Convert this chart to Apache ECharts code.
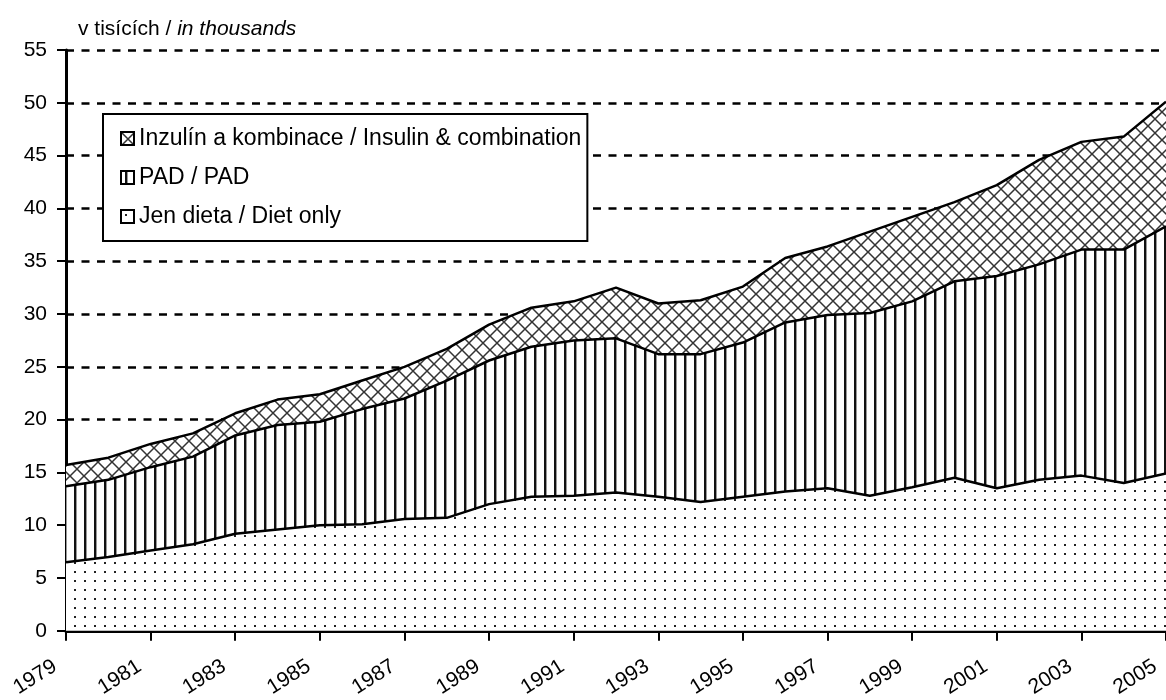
<!DOCTYPE html>
<html>
<head>
<meta charset="utf-8">
<script src="https://cdn.jsdelivr.net/npm/echarts@6/dist/echarts.min.js"></script>
<style>
  html, body { margin: 0; padding: 0; background: #fff; }
  #chart { width: 1166px; height: 700px; }
</style>
</head>
<body>
<div id="chart"></div>
<script>
const years = ['1979', '1980', '1981', '1982', '1983', '1984', '1985', '1986', '1987', '1988',
  '1989', '1990', '1991', '1992', '1993', '1994', '1995', '1996', '1997', '1998',
  '1999', '2000', '2001', '2002', '2003', '2004', '2005'];
// values in thousands, stacked bottom -> top
const dietOnly = [6.5, 7.0, 7.6, 8.2, 9.2, 9.6, 10.0, 10.1, 10.6, 10.7,
  12.0, 12.7, 12.8, 13.1, 12.7, 12.2, 12.7, 13.2, 13.5, 12.8,
  13.6, 14.5, 13.5, 14.3, 14.7, 14.0, 14.9];
const pad = [7.2, 7.3, 7.9, 8.3, 9.3, 9.9, 9.8, 10.9, 11.4, 13.0,
  13.6, 14.2, 14.7, 14.6, 13.5, 14.0, 14.6, 16.0, 16.4, 17.3,
  17.6, 18.6, 20.1, 20.4, 21.4, 22.1, 23.4];
const insulin = [2.0, 2.1, 2.2, 2.2, 2.1, 2.4, 2.6, 2.7, 3.0, 3.0,
  3.4, 3.7, 3.7, 4.8, 4.8, 5.1, 5.3, 6.1, 6.5, 7.7,
  8.0, 7.5, 8.6, 9.9, 10.2, 10.7, 11.8];

const names = {
  insulin: 'Inzulín a kombinace / Insulin & combination',
  pad: 'PAD / PAD',
  diet: 'Jen dieta / Diet only'
};

const font = 'Liberation Sans, Arial, sans-serif';

function tile(w, h, draw) {
  const c = document.createElement('canvas');
  c.width = w;
  c.height = h;
  const ctx = c.getContext('2d');
  ctx.fillStyle = '#fff';
  ctx.fillRect(0, 0, w, h);
  draw(ctx);
  return { image: c, repeat: 'repeat' };
}

const dots = tile(10, 9, ctx => {
  ctx.fillStyle = '#222';
  ctx.fillRect(4, 4, 2, 2);
});
const stripes = tile(10, 10, ctx => {
  ctx.fillStyle = '#111';
  ctx.fillRect(4, 0, 2, 10);
  ctx.fillStyle = '#999';
  ctx.fillRect(6, 0, 1, 10);
});
const hatch = tile(14, 14, ctx => {
  ctx.strokeStyle = '#333';
  ctx.lineWidth = 1.5;
  ctx.beginPath();
  ctx.moveTo(-1, -1); ctx.lineTo(15, 15);
  ctx.moveTo(15, -1); ctx.lineTo(-1, 15);
  ctx.stroke();
});

function layer(name, data, pattern) {
  return {
    name: name,
    type: 'line',
    stack: 'total',
    data: data,
    symbol: 'none',
    silent: true,
    lineStyle: { color: '#000', width: 2.5 },
    itemStyle: { color: '#000' },
    areaStyle: { color: pattern, opacity: 1 }
  };
}

const chart = echarts.init(document.getElementById('chart'));
chart.setOption({
  animation: false,
  title: {
    text: '{a|v tisících / }{b|in thousands}',
    left: 73,
    top: 14,
    textStyle: {
      rich: {
        a: { fontSize: 21, fontFamily: font, color: '#000', fontWeight: 'normal' },
        b: { fontSize: 21, fontFamily: font, color: '#000', fontWeight: 'normal', fontStyle: 'italic' }
      }
    }
  },
  legend: {
    orient: 'vertical',
    left: 103,
    top: 114,
    icon: 'rect',
    itemWidth: 13,
    itemHeight: 13,
    itemGap: 16,
    padding: [13, 6, 13, 17],
    backgroundColor: '#fff',
    borderColor: '#000',
    borderWidth: 2,
    borderRadius: 0,
    z: 10,
    selectedMode: false,
    textStyle: { fontSize: 23, fontFamily: font, color: '#000' },
    data: [
      { name: names.insulin, itemStyle: { color: hatch, borderColor: '#000', borderWidth: 2 } },
      { name: names.pad, itemStyle: { color: stripes, borderColor: '#000', borderWidth: 2 } },
      { name: names.diet, itemStyle: { color: dots, borderColor: '#000', borderWidth: 2 } }
    ]
  },
  grid: { left: 66, right: 0, top: 50, bottom: 68, containLabel: false },
  xAxis: {
    type: 'category',
    data: years,
    boundaryGap: false,
    axisLine: { lineStyle: { color: '#000', width: 3 } },
    axisTick: { interval: 1, length: 10, lineStyle: { color: '#000', width: 2 } },
    axisLabel: {
      interval: 1,
      rotate: 32,
      margin: 27,
      padding: [0, 13, 0, 0],
      fontSize: 21,
      fontFamily: font,
      color: '#000'
    },
    splitLine: { show: false }
  },
  yAxis: {
    type: 'value',
    min: 0,
    max: 55,
    interval: 5,
    axisLine: { show: true, lineStyle: { color: '#000', width: 3 } },
    axisTick: { show: true, length: 9, lineStyle: { color: '#000', width: 2 } },
    axisLabel: { margin: 19, fontSize: 21, fontFamily: font, color: '#000' },
    splitLine: { lineStyle: { color: '#000', width: 2.5, type: [8, 7.5] } }
  },
  series: [
    layer(names.diet, dietOnly, dots),
    layer(names.pad, pad, stripes),
    layer(names.insulin, insulin, hatch)
  ]
});
</script>
</body>
</html>
